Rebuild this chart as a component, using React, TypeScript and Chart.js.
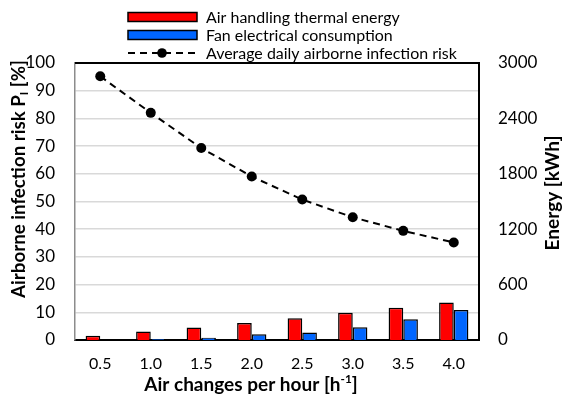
import React, { useEffect, useRef } from "react";
import { Chart, registerables } from "chart.js";

Chart.register(...registerables);

const categories = ["0.5", "1.0", "1.5", "2.0", "2.5", "3.0", "3.5", "4.0"];
const thermalEnergy = [45, 92, 135, 185, 236, 295, 349, 407];
const fanEnergy = [0, 10, 25, 62, 80, 138, 225, 324];
const infectionRisk = [95.2, 82.0, 69.3, 59.0, 50.7, 44.3, 39.4, 35.2];
const legendLabels = [
  "Air handling thermal energy",
  "Fan electrical consumption",
  "Average daily airborne infection risk",
];
const leftTitle = ["Airborne infection risk P", "I", " [%]"];
const rightTitle = ["Energy [kWh]", "", ""];
const xTitle = ["Air changes per hour [h", "-1", "]"];

const FONT = "Lato";
const RED = "#ff0000";
const BLUE = "#0066ff";

function richWidth(ctx: CanvasRenderingContext2D, parts: string[], size: number) {
  ctx.font = `bold ${size}px ${FONT}`;
  const w0 = ctx.measureText(parts[0]).width;
  const w2 = ctx.measureText(parts[2]).width;
  ctx.font = `bold ${size * 0.62}px ${FONT}`;
  const w1 = ctx.measureText(parts[1]).width;
  return [w0, w1, w2];
}

function drawRich(ctx: CanvasRenderingContext2D, parts: string[], target: number, shift: number) {
  const m = richWidth(ctx, parts, 100);
  const size = Math.min(19, (100 * target) / (m[0] + m[1] + m[2]));
  const [w0, w1, w2] = richWidth(ctx, parts, size);
  let x = -(w0 + w1 + w2) / 2;
  ctx.textAlign = "left";
  ctx.textBaseline = "middle";
  ctx.font = `bold ${size}px ${FONT}`;
  ctx.fillText(parts[0], x, 0);
  x += w0;
  ctx.font = `bold ${size * 0.62}px ${FONT}`;
  ctx.fillText(parts[1], x, shift * size);
  x += w1;
  ctx.font = `bold ${size}px ${FONT}`;
  ctx.fillText(parts[2], x, 0);
}

const decorPlugin = {
  id: "decor",
  afterDraw(chart: any) {
    const ctx = chart.ctx as CanvasRenderingContext2D;
    const a = chart.chartArea;
    ctx.save();
    ctx.strokeStyle = "#000";
    ctx.lineWidth = 2;
    ctx.beginPath();
    ctx.moveTo(a.left, a.top);
    ctx.lineTo(a.right, a.top);
    ctx.lineTo(a.right, a.bottom);
    ctx.stroke();

    // legend
    const bx = 128, bw = 69, bh = 9, tx = 206;
    const rows = [17, 35, 53];
    ctx.font = `100px ${FONT}`;
    const lw = ctx.measureText(legendLabels[2]).width;
    const lsize = (100 * 251) / lw;
    ctx.font = `${lsize}px ${FONT}`;
    ctx.textBaseline = "middle";
    ctx.textAlign = "left";
    const fills = [RED, BLUE];
    for (let i = 0; i < 2; i++) {
      ctx.fillStyle = fills[i];
      ctx.fillRect(bx, rows[i] - bh / 2, bw, bh);
      ctx.lineWidth = 1.5;
      ctx.strokeStyle = "#000";
      ctx.strokeRect(bx, rows[i] - bh / 2, bw, bh);
    }
    ctx.lineWidth = 2;
    const dashes = [[128, 135], [140, 147], [152, 171], [176, 183], [188, 195]];
    ctx.beginPath();
    for (const [s, e] of dashes) {
      ctx.moveTo(s, rows[2]);
      ctx.lineTo(e, rows[2]);
    }
    ctx.stroke();
    ctx.fillStyle = "#000";
    ctx.beginPath();
    ctx.arc(162, rows[2], 4.8, 0, Math.PI * 2);
    ctx.fill();
    for (let i = 0; i < 3; i++) {
      ctx.fillStyle = "#000";
      ctx.fillText(legendLabels[i], tx, rows[i] + 1);
    }

    // titles
    ctx.fillStyle = "#000";
    ctx.save();
    ctx.translate(19, 179);
    ctx.rotate(-Math.PI / 2);
    drawRich(ctx, leftTitle, 238, 0.3);
    ctx.restore();

    ctx.save();
    ctx.translate(553, 193);
    ctx.rotate(-Math.PI / 2);
    drawRich(ctx, rightTitle, 120, 0);
    ctx.restore();

    ctx.save();
    ctx.translate(251, 385);
    drawRich(ctx, xTitle, 224, -0.3);
    ctx.restore();
    ctx.restore();
  },
};

export default function App() {
  const ref = useRef<HTMLCanvasElement | null>(null);
  useEffect(() => {
    document.body.style.margin = "0";
    if (!ref.current) return;
    const chart = new Chart(ref.current, {
      type: "bar",
      data: {
        labels: categories,
        datasets: [
          {
            type: "line",
            label: legendLabels[2],
            data: infectionRisk,
            yAxisID: "y",
            borderColor: "#000",
            backgroundColor: "#000",
            borderWidth: 2,
            borderDash: [7, 5],
            pointRadius: 5,
            pointBackgroundColor: "#000",
            pointBorderWidth: 0,
            order: 0,
          } as any,
          {
            type: "bar",
            label: legendLabels[0],
            data: thermalEnergy,
            yAxisID: "y1",
            backgroundColor: RED,
            borderColor: "#000",
            borderWidth: 1.5,
            categoryPercentage: 0.58,
            barPercentage: 1,
            order: 1,
          },
          {
            type: "bar",
            label: legendLabels[1],
            data: fanEnergy,
            yAxisID: "y1",
            backgroundColor: BLUE,
            borderColor: "#000",
            borderWidth: 1.5,
            categoryPercentage: 0.58,
            barPercentage: 1,
            order: 1,
          },
        ],
      },
      options: {
        animation: false,
        responsive: true,
        maintainAspectRatio: false,
        layout: { padding: { top: 63, left: 0, right: 0, bottom: 0 } },
        plugins: {
          legend: { display: false },
          tooltip: { enabled: false },
        },
        scales: {
          x: {
            grid: { display: false, drawTicks: false },
            border: { color: "#000", width: 2 },
            ticks: { font: { family: FONT, size: 16 }, color: "#000", padding: 14 },
            afterFit: (s: any) => {
              s.height = 56;
            },
          },
          y: {
            position: "left",
            min: 0,
            max: 100,
            grid: { color: "#d9d9d9", lineWidth: 1.5, drawTicks: false },
            border: { color: "#8c8c8c", width: 1.5 },
            ticks: { stepSize: 10, font: { family: FONT, size: 17 }, color: "#000", padding: 20 },
            afterFit: (s: any) => {
              s.width = 75;
            },
          },
          y1: {
            position: "right",
            min: 0,
            max: 3000,
            grid: { display: false, drawTicks: false },
            border: { color: "#000", width: 2 },
            ticks: {
              stepSize: 600,
              font: { family: FONT, size: 17 },
              color: "#000",
              padding: 19,
              callback: (v: any) => String(v),
            },
            afterFit: (s: any) => {
              s.width = 84;
            },
          },
        },
      },
      plugins: [decorPlugin],
    });
    return () => chart.destroy();
  }, []);
  return (
    <div style={{ width: 563, height: 396, position: "relative" }}>
      <canvas ref={ref} />
    </div>
  );
}
